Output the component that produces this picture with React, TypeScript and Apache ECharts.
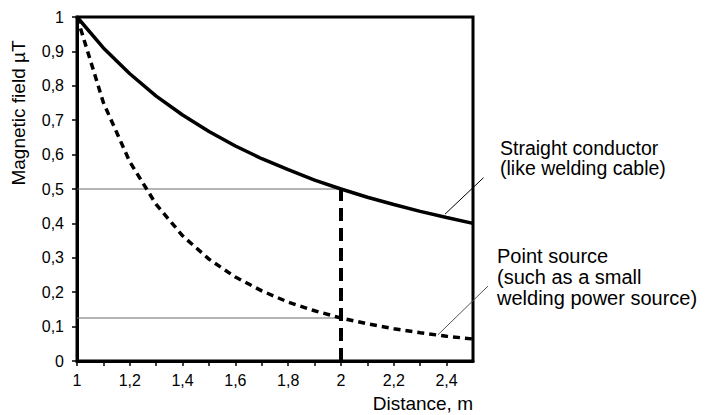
import React, { useEffect, useRef } from "react";
import * as echarts from "echarts";

const distances = [1, 1.1, 1.2, 1.3, 1.4, 1.5, 1.6, 1.7, 1.8, 1.9, 2, 2.1, 2.2, 2.3, 2.4, 2.5];
const straightConductor = [1, 0.91, 0.835, 0.77, 0.715, 0.667, 0.625, 0.588, 0.556, 0.526, 0.5, 0.476, 0.455, 0.435, 0.417, 0.4];
const pointSource = [1, 0.751, 0.579, 0.455, 0.364, 0.296, 0.244, 0.204, 0.171, 0.146, 0.125, 0.108, 0.094, 0.082, 0.072, 0.064];

const refLine05 = [[1, 0.5], [2, 0.5]];
const refLine0125 = [[1, 0.125], [2, 0.125]];
const verticalAt2 = [[2, 0], [2, 0.5]];
const leaderStraight = [[2.394, 0.427], [2.54, 0.533]];
const leaderPoint = [[2.367, 0.076], [2.557, 0.218]];

const labelStraight = ["Straight conductor", "(like welding cable)"];
const labelPoint = ["Point source", "(such as a small", "welding power source)"];
const xTitle = "Distance, m";
const yTitle = "Magnetic field µT";

const FONT = '"Liberation Sans", Arial, Helvetica, sans-serif';

const fmt = (v: number) => {
  const r = Math.round(v * 10) / 10;
  return String(r).replace(".", ",");
};

export default function App() {
  const ref = useRef<HTMLDivElement>(null);
  useEffect(() => {
    if (!ref.current) return;
    const chart = echarts.init(ref.current, undefined, { renderer: "svg" });
    const thin = { color: "#6b6b6b", width: 1 };
    const textGraphics: any[] = [
      {
        type: "text",
        left: 500,
        top: 138,
        style: {
          text: labelStraight.join("\n"),
          fill: "#000",
          font: `19.5px ${FONT}`,
          lineHeight: 20,
        },
      },
      {
        type: "text",
        left: 497,
        top: 245,
        style: {
          text: labelPoint.join("\n"),
          fill: "#000",
          font: `20px ${FONT}`,
          lineHeight: 21,
        },
      },
      {
        type: "text",
        x: 473,
        y: 403,
        style: {
          text: xTitle,
          fill: "#000",
          font: `19px ${FONT}`,
          align: "right",
          verticalAlign: "middle",
        },
      },
      {
        type: "text",
        x: 18,
        y: 113,
        rotation: Math.PI / 2,
        style: {
          text: yTitle,
          fill: "#000",
          font: `19px ${FONT}`,
          align: "center",
          verticalAlign: "middle",
        },
      },
    ];
    chart.setOption({
      animation: false,
      backgroundColor: "#ffffff",
      grid: {
        left: 77,
        top: 17,
        right: 239,
        bottom: 54,
        show: true,
        borderColor: "#000",
        borderWidth: 3,
        backgroundColor: "transparent",
      },
      xAxis: {
        type: "value",
        min: 1,
        max: 2.5,
        interval: 0.1,
        splitLine: { show: false },
        axisLine: { show: true, lineStyle: { color: "#000", width: 3 } },
        axisTick: { show: true, inside: false, length: 5, lineStyle: { color: "#000", width: 1.5 } },
        axisLabel: {
          margin: 11,
          color: "#000",
          fontFamily: FONT,
          fontSize: 16,
          showMaxLabel: false,
          formatter: (v: number) => {
            const k = Math.round(v * 10);
            if (k % 2 !== 0 || k > 24) return "";
            return fmt(v);
          },
        },
      },
      yAxis: {
        type: "value",
        min: 0,
        max: 1,
        interval: 0.1,
        splitLine: { show: false },
        axisLine: { show: true, lineStyle: { color: "#000", width: 3 } },
        axisTick: { show: true, inside: false, length: 5, lineStyle: { color: "#000", width: 1.5 } },
        axisLabel: {
          margin: 13,
          color: "#000",
          fontFamily: FONT,
          fontSize: 16,
          formatter: (v: number) => fmt(v),
        },
      },
      series: [
        { type: "line", data: refLine05, symbol: "none", lineStyle: thin, silent: true, z: 1 },
        { type: "line", data: refLine0125, symbol: "none", lineStyle: thin, silent: true, z: 1 },
        {
          type: "line",
          data: distances.map((d, i) => [d, straightConductor[i]]),
          symbol: "none",
          lineStyle: { color: "#000", width: 3.5 },
          z: 3,
        },
        {
          type: "line",
          data: distances.map((d, i) => [d, pointSource[i]]),
          symbol: "none",
          lineStyle: { color: "#000", width: 3.5, type: [7, 5] },
          z: 3,
        },
        {
          type: "line",
          data: verticalAt2,
          symbol: "none",
          lineStyle: { color: "#000", width: 4, type: [13, 7] },
          z: 4,
        },
      ],
      graphic: textGraphics,
    });

    const toPx = (p: number[]) => chart.convertToPixel({ gridIndex: 0 }, p) as number[];
    const leader = (pts: number[][], color: string) => {
      const a = toPx(pts[0]);
      const b = toPx(pts[1]);
      return {
        type: "line",
        z: 10,
        shape: { x1: a[0], y1: a[1], x2: b[0], y2: b[1] },
        style: { stroke: color, lineWidth: 1 },
      };
    };
    chart.setOption(
      {
        graphic: [...textGraphics, leader(leaderStraight, "#000"), leader(leaderPoint, "#555")],
      },
      { replaceMerge: ["graphic"] }
    );
    return () => chart.dispose();
  }, []);
  return <div ref={ref} style={{ width: 712, height: 415, position: "absolute", left: 0, top: 0 }} />;
}
